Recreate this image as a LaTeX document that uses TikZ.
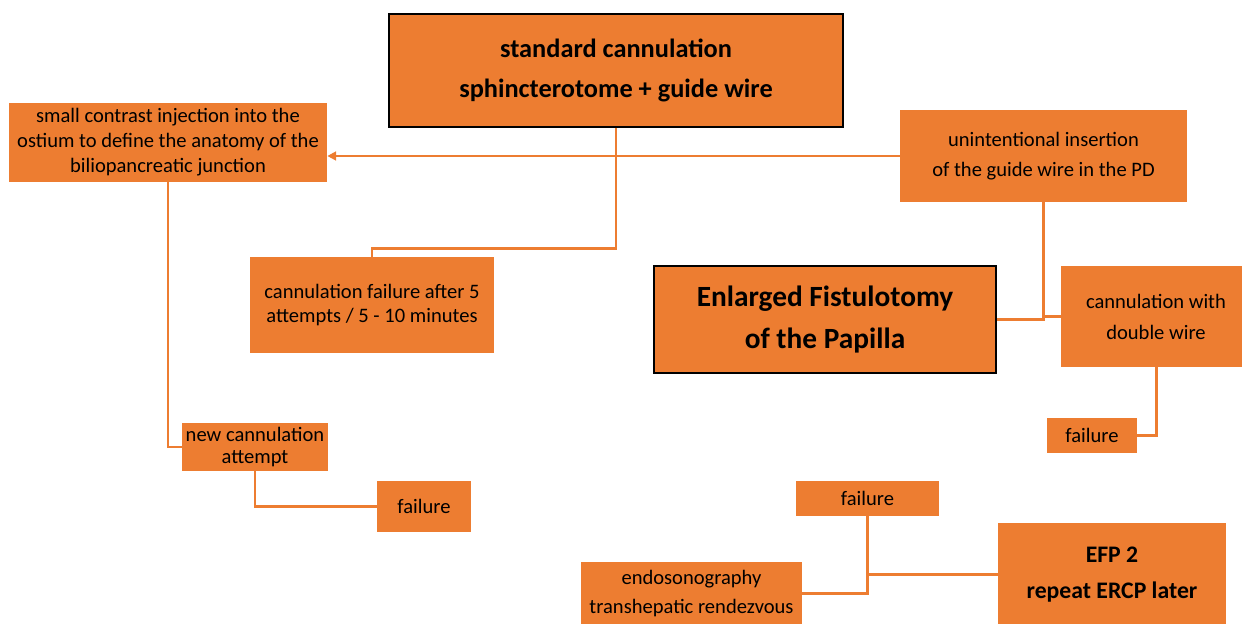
\documentclass[tikz,border=0pt]{standalone}
\usepackage{fontspec}
\setmainfont{Carlito}
\usetikzlibrary{arrows.meta}
\definecolor{efporange}{RGB}{237,125,49}

\begin{document}
\begin{tikzpicture}[
    x=0.02cm, y=-0.02cm,
    box/.style={fill=efporange,inner sep=0pt,align=center,
                font=\fontsize{11.7}{14.2}\selectfont},
    keybox/.style={box,draw=black,line width=1.1pt},
    link/.style={draw=efporange,line width=1.7pt},
    arr/.style={link,-{Triangle[length=5pt,width=5pt]}}
]
  \useasboundingbox (0,0) rectangle (1242,624);

  % Start of the procedure
  \node[keybox,minimum width=9.08cm,minimum height=2.26cm,
        font=\fontsize{15}{22.7}\selectfont\bfseries] (std) at (616,70.5)
        {standard cannulation\\sphincterotome + guide wire};

  % Left branch
  \node[box,minimum width=6.36cm,minimum height=1.58cm] (contrast) at (168,142.5)
        {small contrast injection into the\\ostium to define the anatomy of the\\biliopancreatic junction};
  \node[box,minimum width=4.88cm,minimum height=1.92cm,
        font=\fontsize{11.7}{13.6}\selectfont] (cfail) at (372,305)
        {cannulation failure after 5\\attempts / 5 - 10 minutes};
  \node[box,minimum width=2.92cm,minimum height=0.96cm,
        font=\fontsize{11.7}{13}\selectfont] (newc) at (255,447)
        {new cannulation\\attempt};
  \node[box,minimum width=1.88cm,minimum height=1.02cm] (faill) at (424,506.5) {failure};

  % Right branch
  \node[box,minimum width=5.74cm,minimum height=1.84cm,
        font=\fontsize{11.7}{17}\selectfont] (unint) at (1043.5,156)
        {unintentional insertion\\of the guide wire in the PD};
  \node[keybox,minimum width=6.84cm,minimum height=2.14cm,
        font=\fontsize{16.7}{24.4}\selectfont\bfseries] (efp) at (825,319.5)
        {Enlarged Fistulotomy\\of the Papilla};
  \node[box,minimum width=3.8cm,minimum height=2.02cm,
        font=\fontsize{11.7}{17.6}\selectfont] (dwire) at (1156,316.5)
        {cannulation with\\double wire};
  \node[box,minimum width=1.8cm,minimum height=0.7cm] (failr) at (1092,435.5) {failure};

  % Bottom
  \node[box,minimum width=2.86cm,minimum height=0.7cm] (failb) at (867.5,498.5) {failure};
  \node[box,minimum width=4.42cm,minimum height=1.26cm,
        font=\fontsize{11.7}{16.5}\selectfont] (endo) at (691.5,593.5)
        {endosonography\\transhepatic rendezvous};
  \node[box,minimum width=4.56cm,minimum height=2.06cm,
        font=\fontsize{13.5}{20.4}\selectfont\bfseries] (efptwo) at (1112,574.5)
        {EFP 2\\repeat ERCP later};

  % Connectors
  \draw[arr] (unint.west) -- (unint.west -| contrast.east);
  \draw[link] (std.south) -- ++(0,121) -| (cfail.north);
  \draw[link] (contrast.south) |- (newc.west);
  \draw[link] (newc.south) |- (faill.west);
  \draw[link] (unint.south) |- (efp.east);
  \draw[link] (unint.south |- dwire.west) -- (dwire.west);
  \draw[link] (dwire.south) |- (failr.east);
  \draw[link] (failb.south) |- (endo.east);
  \draw[link] (efptwo.west) -- (efptwo.west -| failb.south);
\end{tikzpicture}
\end{document}
